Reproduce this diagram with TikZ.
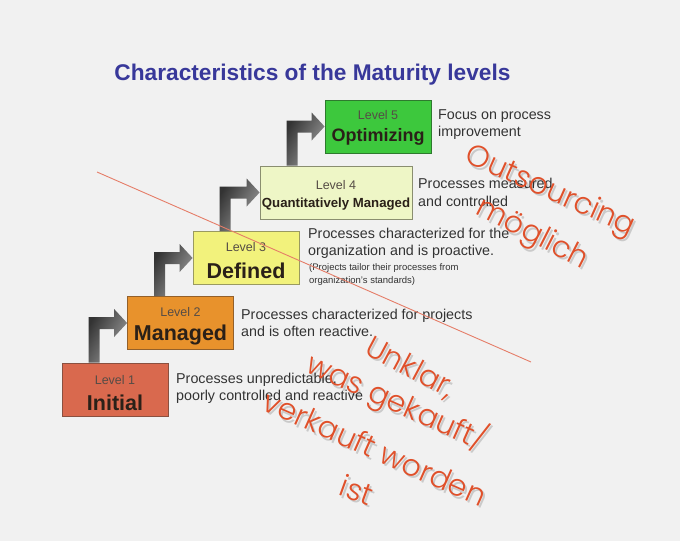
\documentclass[tikz,border=0pt]{standalone}
\usepackage{fontspec}
\setmainfont{Liberation Sans}
\newfontfamily\handfont{Poppins}[UprightFont={* Light}]
\usetikzlibrary{calc}
\definecolor{bgpaper}{HTML}{F1F1F1}
\definecolor{titleblue}{HTML}{38389A}
\definecolor{txtgray}{HTML}{333333}
\definecolor{boxtxt}{HTML}{2A2018}
\definecolor{fillA}{HTML}{D9694E}\definecolor{edgeA}{HTML}{8A5040}
\definecolor{fillB}{HTML}{E8922C}\definecolor{edgeB}{HTML}{93602A}
\definecolor{fillC}{HTML}{F2F27C}\definecolor{edgeC}{HTML}{9A9A60}
\definecolor{fillD}{HTML}{EEF6C6}\definecolor{edgeD}{HTML}{8A8E70}
\definecolor{fillE}{HTML}{3DC83D}\definecolor{edgeE}{HTML}{2E7A2E}
\definecolor{inkred}{HTML}{E0502A}
\definecolor{lineRed}{HTML}{E57D68}
\tikzset{
  levelbox/.style={draw, line width=0.8pt, minimum width=106pt, minimum height=53pt, inner sep=0pt},
  lvltext/.style={text=boxtxt!80, font=\fontsize{12.5}{14}\selectfont, inner sep=0pt},
  bigtext/.style={text=boxtxt, font=\bfseries\fontsize{21.5}{24}\selectfont, inner sep=0pt},
  desc/.style={text=txtgray, font=\fontsize{14.3}{17.3}\selectfont, align=left, inner sep=0pt, anchor=west},
  smalldesc/.style={text=txtgray, font=\fontsize{9.5}{13}\selectfont, align=left, inner sep=0pt, anchor=west},
  hand/.style={text=inkred, font=\handfont\fontsize{30}{33}\selectfont, inner sep=0pt},
  handshadow/.style={text=black, opacity=0.16, font=\handfont\fontsize{30}{33}\selectfont, inner sep=0pt},
  arrowshade/.style={left color=black!80, right color=black!38, shading angle=60}
}
% stair arrow from the top of one box to the left side of the next
\newcommand\stairarrow[2]{%
  \shade[arrowshade] let \p1=(#1.north west), \p2=(#2.west) in
    (\x1+27pt,\y1) -- (\x1+27pt,\y2+6pt) -- (\x2-13pt,\y2+6pt) -- (\x2-13pt,\y2+14pt)
    -- (\x2,\y2) -- (\x2-13pt,\y2-14pt) -- (\x2-13pt,\y2-6pt) -- (\x1+38pt,\y2-6pt)
    -- (\x1+38pt,\y1) -- cycle;}
% handwritten note with a soft shadow
\newcommand\handnote[4]{%
  \node[handshadow, rotate=#3] at ($(#2)+(2,2.5)$) {#4};
  \node[hand, rotate=#3] (#1) at (#2) {#4};}
\begin{document}
\begin{tikzpicture}[x=1pt, y=-1pt]
  \fill[bgpaper] (0,0) rectangle (680,541);
  \useasboundingbox (0,0) rectangle (680,541);

  \node[text=titleblue, font=\bfseries\fontsize{22.7}{26}\selectfont, inner sep=0pt] (title) at (312.5,75) {Characteristics of the Maturity levels};

  % the five level boxes
  \node[levelbox, fill=fillA, draw=edgeA] (l1) at (115,389.5) {};
  \node[levelbox, fill=fillB, draw=edgeB] (l2) at (180.5,323) {};
  \node[levelbox, fill=fillC, draw=edgeC] (l3) at (246,258) {};
  \node[levelbox, fill=fillD, draw=edgeD, minimum width=152pt] (l4) at (336,192.5) {};
  \node[levelbox, fill=fillE, draw=edgeE] (l5) at (378,126.5) {};

  \node[lvltext] (l1a) at ($(l1.center)+(0,-9.5)$) {Level 1};
  \node[bigtext] (l1b) at ($(l1.center)+(0,13.5)$) {Initial};
  \node[lvltext] (l2a) at ($(l2.center)+(0,-11)$) {Level 2};
  \node[bigtext] (l2b) at ($(l2.center)+(0,12)$) {Managed};
  \node[lvltext] (l3a) at ($(l3.center)+(0,-11)$) {Level 3};
  \node[bigtext] (l3b) at ($(l3.center)+(0,13)$) {Defined};
  \node[lvltext] (l4a) at ($(l4.center)+(0,-7.5)$) {Level 4};
  \node[text=boxtxt, font=\bfseries\fontsize{13.2}{15}\selectfont, inner sep=0pt] (l4b) at ($(l4.center)+(0,11.5)$) {Quantitatively Managed};
  \node[lvltext] (l5a) at ($(l5.center)+(0,-11.5)$) {Level 5};
  \node[bigtext, font=\bfseries\fontsize{18}{21}\selectfont] (l5b) at ($(l5.center)+(0,10.5)$) {Optimizing};

  % arrows climbing the stairs
  \stairarrow{l1}{l2}
  \stairarrow{l2}{l3}
  \stairarrow{l3}{l4}
  \stairarrow{l4}{l5}

  % descriptions
  \node[desc] (d1) at (176,388.5) {Processes unpredictable,\\poorly controlled and reactive};
  \node[desc] (d2) at (241,323) {Processes characterized for projects\\and is often reactive.};
  \node[desc] (d3) at (308,243.5) {Processes characterized for the\\organization and is proactive.};
  \node[smalldesc] (d3s) at (309,274.5) {(Projects tailor their processes from\\organization's standards)};
  \node[desc] (d4) at (418,192.5) {Processes measured\\and controlled};
  \node[desc] (d5) at (438,124.5) {Focus on process\\improvement};

  % dividing stroke
  \coordinate (cutA) at (97,172);
  \coordinate (cutB) at (531,362);
  \draw[lineRed, line width=0.9pt] (cutA) -- (cutB);

  % handwritten notes
  \coordinate (pOut) at (550,192);
  \coordinate (pMog) at (532,235);
  \coordinate (pUnk) at (410,368);
  \coordinate (pWas) at (397,402);
  \coordinate (pVer) at (375,448);
  \coordinate (pIst) at (357,490);
  \handnote{hOut}{pOut}{-24}{Outsourcing}
  \handnote{hMog}{pMog}{-27}{möglich}
  \handnote{hUnk}{pUnk}{-28}{Unklar,}
  \handnote{hWas}{pWas}{-24}{was gekauft/}
  \handnote{hVer}{pVer}{-24}{verkauft worden}
  \handnote{hIst}{pIst}{-20}{ist}
\end{tikzpicture}
\end{document}
